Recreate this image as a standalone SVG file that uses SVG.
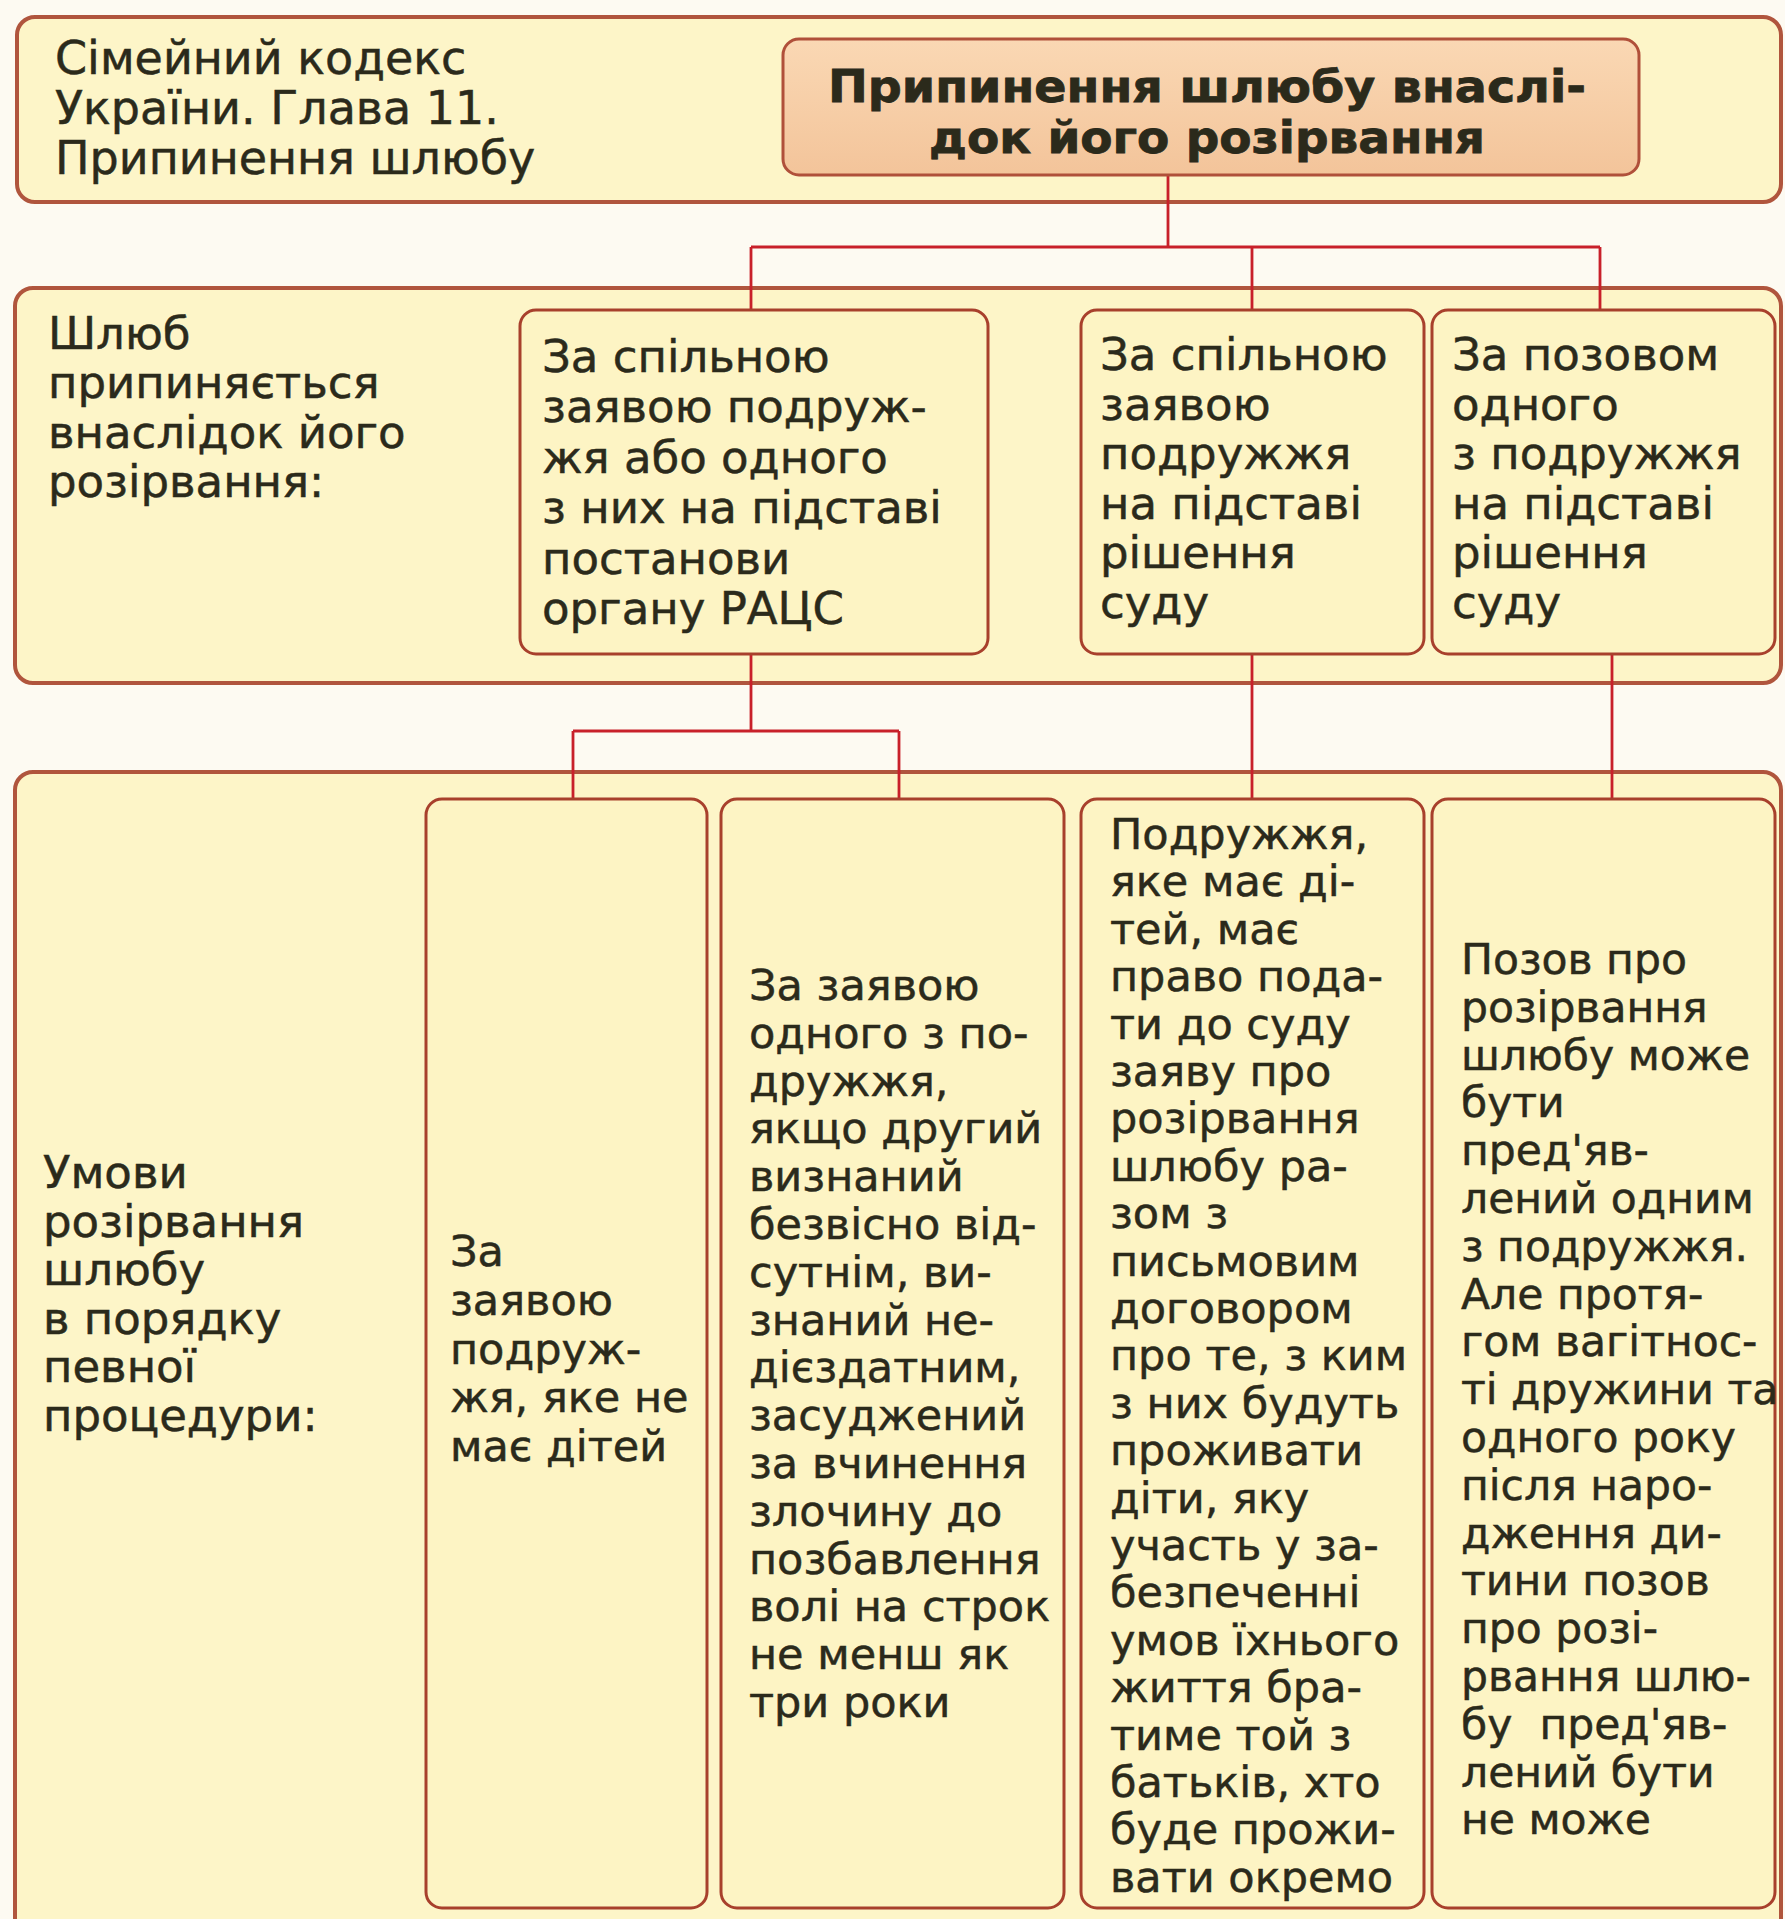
<svg xmlns="http://www.w3.org/2000/svg" width="1785" height="1919" viewBox="0 0 1785 1919">
<defs>
<linearGradient id="tg" x1="0" y1="0" x2="0" y2="1"><stop offset="0" stop-color="#fad8b4"/><stop offset="1" stop-color="#f3c49a"/></linearGradient>
<style>
.outer{fill:#fdf5c8;stroke:#b0553d;stroke-width:4}
.inner{fill:#fdf4c4;stroke:#a8402c;stroke-width:3}
.ttl{fill:url(#tg);stroke:#b0503a;stroke-width:3}
.t{font-family:"DejaVu Sans","Liberation Sans",sans-serif;fill:#2b2a1b;stroke:#2b2a1b;stroke-width:0.5}
.a{font-size:46px}
.b{font-size:45px}
.c{font-size:43px}
.h{font-weight:bold;font-size:44px;stroke-width:0.8}
.con{stroke:#c8202a;stroke-width:2.8;fill:none}
</style>
</defs>
<rect width="1785" height="1919" fill="#fdfaf2"/>

<g id="row-a">
<rect class="outer" x="17" y="17" width="1764" height="185" rx="18"/>
<text class="t a" x="55" y="74">Сімейний кодекс<tspan x="55" dy="50">України. Глава 11.</tspan><tspan x="55" dy="50">Припинення шлюбу</tspan></text>
</g>
<g id="row-b">
<rect class="outer" x="15" y="288" width="1766" height="395" rx="18"/>
<text class="t b" x="48" y="349">Шлюб<tspan x="48" dy="49.3">припиняється</tspan><tspan x="48" dy="49.3">внаслідок його</tspan><tspan x="48" dy="49.3">розірвання:</tspan></text>
</g>
<g id="row-c">
<rect class="outer" x="15" y="772" width="1766" height="1170" rx="18"/>
<text class="t b" x="43" y="1188">Умови<tspan x="43" dy="48.6">розірвання</tspan><tspan x="43" dy="48.6">шлюбу</tspan><tspan x="43" dy="48.6">в порядку</tspan><tspan x="43" dy="48.6">певної</tspan><tspan x="43" dy="48.6">процедури:</tspan></text>
</g>

<g id="connectors">
<path class="con" d="M1168 175V247M751 247H1600M751 247V310M1252 247V310M1600 247V310"/>
<path class="con" d="M751 654V731M573 731H899M573 731V799M899 731V799"/>
<path class="con" d="M1252 654V799M1612 654V799"/>
</g>

<g id="title">
<rect class="ttl" x="783" y="39" width="856" height="136" rx="16"/>
<text class="t h" text-anchor="middle" x="1207" y="102" textLength="758" lengthAdjust="spacingAndGlyphs">Припинення шлюбу внаслі-</text>
<text class="t h" text-anchor="middle" x="1207" y="153" textLength="556" lengthAdjust="spacingAndGlyphs">док його розірвання</text>
</g>

<g id="b1">
<rect class="inner" x="520" y="310" width="468" height="344" rx="16"/>
<text class="t b" x="542" y="372">За спільною<tspan x="542" dy="50.4">заявою подруж-</tspan><tspan x="542" dy="50.4">жя або одного</tspan><tspan x="542" dy="50.4">з них на підставі</tspan><tspan x="542" dy="50.4">постанови</tspan><tspan x="542" dy="50.4">органу РАЦС</tspan></text>
</g>
<g id="b2">
<rect class="inner" x="1081" y="310" width="343" height="344" rx="16"/>
<text class="t b" x="1100" y="370">За спільною<tspan x="1100" dy="49.6">заявою</tspan><tspan x="1100" dy="49.6">подружжя</tspan><tspan x="1100" dy="49.6">на підставі</tspan><tspan x="1100" dy="49.6">рішення</tspan><tspan x="1100" dy="49.6">суду</tspan></text>
</g>
<g id="b3">
<rect class="inner" x="1432" y="310" width="343" height="344" rx="16"/>
<text class="t b" x="1452" y="370">За позовом<tspan x="1452" dy="49.6">одного</tspan><tspan x="1452" dy="49.6">з подружжя</tspan><tspan x="1452" dy="49.6">на підставі</tspan><tspan x="1452" dy="49.6">рішення</tspan><tspan x="1452" dy="49.6">суду</tspan></text>
</g>

<g id="c1">
<rect class="inner" x="426" y="799" width="281" height="1109" rx="16"/>
<text class="t c" x="450" y="1266">За<tspan x="450" dy="48.8">заявою</tspan><tspan x="450" dy="48.8">подруж-</tspan><tspan x="450" dy="48.8">жя, яке не</tspan><tspan x="450" dy="48.8">має дітей</tspan></text>
</g>
<g id="c2">
<rect class="inner" x="721" y="799" width="343" height="1109" rx="16"/>
<text class="t c" x="749" y="1000">За заявою<tspan x="749" dy="47.8">одного з по-</tspan><tspan x="749" dy="47.8">дружжя,</tspan><tspan x="749" dy="47.8">якщо другий</tspan><tspan x="749" dy="47.8">визнаний</tspan><tspan x="749" dy="47.8">безвісно від-</tspan><tspan x="749" dy="47.8">сутнім, ви-</tspan><tspan x="749" dy="47.8">знаний не-</tspan><tspan x="749" dy="47.8">дієздатним,</tspan><tspan x="749" dy="47.8">засуджений</tspan><tspan x="749" dy="47.8">за вчинення</tspan><tspan x="749" dy="47.8">злочину до</tspan><tspan x="749" dy="47.8">позбавлення</tspan><tspan x="749" dy="47.8">волі на строк</tspan><tspan x="749" dy="47.8">не менш як</tspan><tspan x="749" dy="47.8">три роки</tspan></text>
</g>
<g id="c3">
<rect class="inner" x="1081" y="799" width="343" height="1109" rx="16"/>
<text class="t c" x="1110" y="849">Подружжя,<tspan x="1110" dy="47.4">яке має ді-</tspan><tspan x="1110" dy="47.4">тей, має</tspan><tspan x="1110" dy="47.4">право пода-</tspan><tspan x="1110" dy="47.4">ти до суду</tspan><tspan x="1110" dy="47.4">заяву про</tspan><tspan x="1110" dy="47.4">розірвання</tspan><tspan x="1110" dy="47.4">шлюбу ра-</tspan><tspan x="1110" dy="47.4">зом з</tspan><tspan x="1110" dy="47.4">письмовим</tspan><tspan x="1110" dy="47.4">договором</tspan><tspan x="1110" dy="47.4">про те, з ким</tspan><tspan x="1110" dy="47.4">з них будуть</tspan><tspan x="1110" dy="47.4">проживати</tspan><tspan x="1110" dy="47.4">діти, яку</tspan><tspan x="1110" dy="47.4">участь у за-</tspan><tspan x="1110" dy="47.4">безпеченні</tspan><tspan x="1110" dy="47.4">умов їхнього</tspan><tspan x="1110" dy="47.4">життя бра-</tspan><tspan x="1110" dy="47.4">тиме той з</tspan><tspan x="1110" dy="47.4">батьків, хто</tspan><tspan x="1110" dy="47.4">буде прожи-</tspan><tspan x="1110" dy="47.4">вати окремо</tspan></text>
</g>
<g id="c4">
<rect class="inner" x="1432" y="799" width="343" height="1109" rx="16"/>
<text class="t c" x="1461" y="974" style="font-size:42.5px">Позов про<tspan x="1461" dy="47.8">розірвання</tspan><tspan x="1461" dy="47.8">шлюбу може</tspan><tspan x="1461" dy="47.8">бути</tspan><tspan x="1461" dy="47.8">пред'яв-</tspan><tspan x="1461" dy="47.8">лений одним</tspan><tspan x="1461" dy="47.8">з подружжя.</tspan><tspan x="1461" dy="47.8">Але протя-</tspan><tspan x="1461" dy="47.8">гом вагітнос-</tspan><tspan x="1461" dy="47.8">ті дружини та</tspan><tspan x="1461" dy="47.8">одного року</tspan><tspan x="1461" dy="47.8">після наро-</tspan><tspan x="1461" dy="47.8">дження ди-</tspan><tspan x="1461" dy="47.8">тини позов</tspan><tspan x="1461" dy="47.8">про розі-</tspan><tspan x="1461" dy="47.8">рвання шлю-</tspan><tspan x="1461" dy="47.8">бу&#160; пред'яв-</tspan><tspan x="1461" dy="47.8">лений бути</tspan><tspan x="1461" dy="47.8">не може</tspan></text>
</g>
</svg>
